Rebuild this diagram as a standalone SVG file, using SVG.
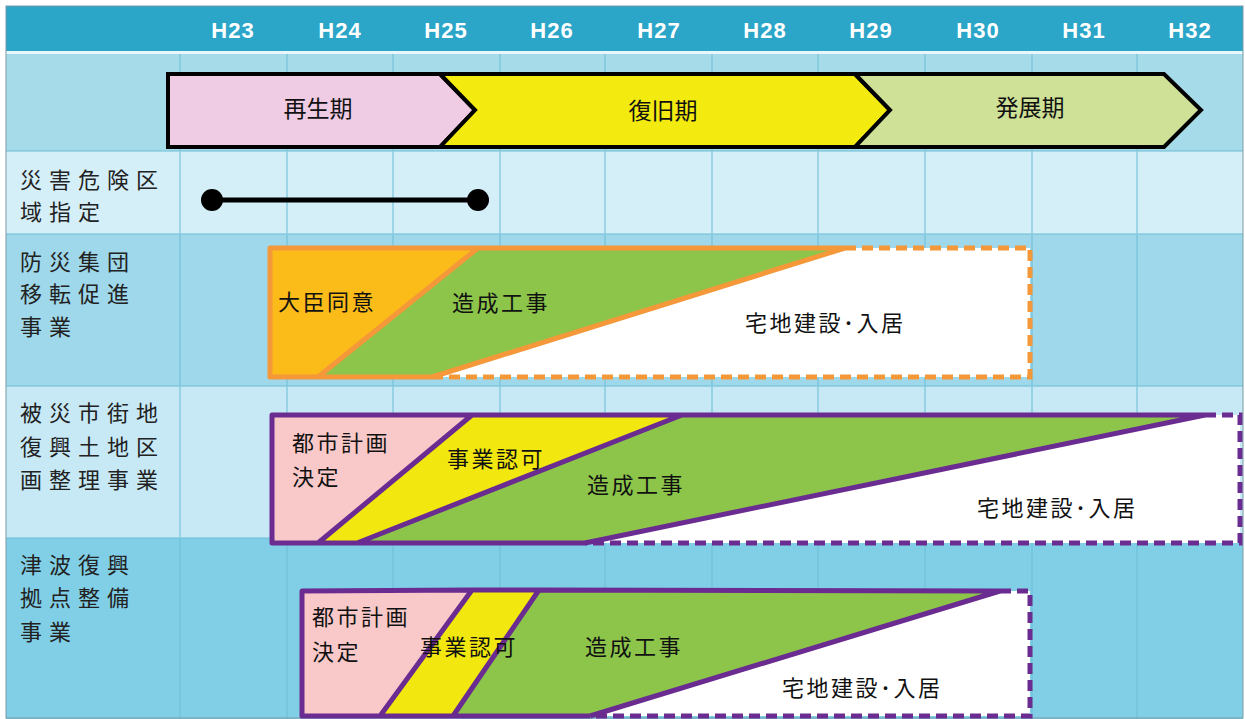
<svg xmlns="http://www.w3.org/2000/svg" width="1245" height="719" viewBox="0 0 1245 719">
<style>
.hdr{font-family:"Liberation Sans",Arial,sans-serif;font-weight:bold;font-size:22px;fill:#ffffff;text-anchor:middle;letter-spacing:1px}
.lbl{font-family:"Noto Sans CJK JP","Noto Sans",sans-serif;font-size:22px;fill:#222;letter-spacing:7px}
.ph{font-family:"Noto Sans CJK JP","Noto Sans",sans-serif;font-size:23px;fill:#111;text-anchor:middle}
.tk{font-family:"Noto Sans CJK JP","Noto Sans",sans-serif;font-size:22px;fill:#111;letter-spacing:2.5px}
.grid{stroke:#6fbfd6;stroke-width:1.5;opacity:0.7}
.phase{stroke:#000;stroke-width:4;stroke-linejoin:miter}
.os{fill:none;stroke:#f4983a;stroke-width:5;stroke-linejoin:round}
.od{fill:none;stroke:#f4983a;stroke-width:5;stroke-dasharray:11 6}
.ps{fill:none;stroke:#6a2c90;stroke-width:5;stroke-linejoin:round}
.pd{fill:none;stroke:#6a2c90;stroke-width:5;stroke-dasharray:11 6}
</style>
<rect x="0" y="0" width="1245" height="719" fill="#ffffff"/>
<g id="background">
<rect x="6" y="6" width="1237" height="45" fill="#2ba6c9"/>
<rect x="6" y="51" width="1237" height="3" fill="#e9f6fa"/>
<rect x="6" y="54" width="1237" height="97" fill="#a6dcea"/>
<rect x="6" y="151" width="1237" height="83" fill="#d5eff9"/>
<rect x="6" y="234" width="1237" height="152" fill="#9ed8ea"/>
<rect x="6" y="386" width="1237" height="152" fill="#c7e9f6"/>
<rect x="6" y="538" width="1237" height="181" fill="#80cfe6"/>
<g class="grid">
<line x1="180" y1="54" x2="180" y2="719"/>
<line x1="287" y1="54" x2="287" y2="719"/>
<line x1="393" y1="54" x2="393" y2="719"/>
<line x1="500" y1="54" x2="500" y2="719"/>
<line x1="605" y1="54" x2="605" y2="719"/>
<line x1="712" y1="54" x2="712" y2="719"/>
<line x1="818" y1="54" x2="818" y2="719"/>
<line x1="925" y1="54" x2="925" y2="719"/>
<line x1="1032" y1="54" x2="1032" y2="719"/>
<line x1="1137" y1="54" x2="1137" y2="719"/>
<line x1="6" y1="151" x2="1243" y2="151"/>
<line x1="6" y1="234" x2="1243" y2="234"/>
<line x1="6" y1="386" x2="1243" y2="386"/>
<line x1="6" y1="538" x2="1243" y2="538"/>
</g>
<rect x="6" y="6" width="1237" height="712" fill="none" stroke="#7a9aa5" stroke-width="1"/>
</g>
<g id="header">
<text class="hdr" x="233" y="38">H23</text>
<text class="hdr" x="340" y="38">H24</text>
<text class="hdr" x="446" y="38">H25</text>
<text class="hdr" x="552" y="38">H26</text>
<text class="hdr" x="659" y="38">H27</text>
<text class="hdr" x="765" y="38">H28</text>
<text class="hdr" x="871" y="38">H29</text>
<text class="hdr" x="978" y="38">H30</text>
<text class="hdr" x="1084" y="38">H31</text>
<text class="hdr" x="1190" y="38">H32</text>
</g>
<g id="phase-saisei">
<polygon class="phase" points="168,74 440,74 475,110 440,147 168,147" fill="#efcce3"/>
<text class="ph" x="318" y="117">再生期</text>
</g>
<g id="phase-fukkyu">
<polygon class="phase" points="440,74 855,74 890,110 855,147 440,147 475,110" fill="#f3ea10"/>
<text class="ph" x="663" y="119">復旧期</text>
</g>
<g id="phase-hatten">
<polygon class="phase" points="855,74 1164,74 1201,110 1164,147 855,147 890,110" fill="#cfe196"/>
<text class="ph" x="1030" y="116">発展期</text>
</g>
<g id="label-saigai">
<text class="lbl" x="20" y="188">災害危険区</text>
<text class="lbl" x="20" y="220">域指定</text>
</g>
<g id="label-bousai">
<text class="lbl" x="20" y="270">防災集団</text>
<text class="lbl" x="20" y="302">移転促進</text>
<text class="lbl" x="20" y="335">事業</text>
</g>
<g id="label-kukaku">
<text class="lbl" x="20" y="421">被災市街地</text>
<text class="lbl" x="20" y="455">復興土地区</text>
<text class="lbl" x="20" y="488">画整理事業</text>
</g>
<g id="label-tsunami">
<text class="lbl" x="20" y="573">津波復興</text>
<text class="lbl" x="20" y="606">拠点整備</text>
<text class="lbl" x="20" y="640">事業</text>
</g>
<g id="connectors">
<line x1="212" y1="200" x2="478" y2="200" stroke="#000" stroke-width="5"/>
<circle cx="212" cy="200" r="11" fill="#000"/>
<circle cx="478" cy="200" r="11" fill="#000"/>
</g>
<g id="bar-bousai">
<polygon points="270,248 478,248 318,377 270,377" fill="#fbbc1a"/>
<polygon points="478,248 845,248 432,377 318,377" fill="#8dc54b"/>
<polygon points="845,248 1030,248 1030,377 432,377" fill="#ffffff"/>
<path class="od" d="M845,248 L1030,248 L1030,377 L432,377"/>
<path class="os" d="M432,377 L270,377 L270,248 L845,248 M478,248 L318,377 M845,248 L432,377"/>
<text class="tk" x="278" y="310">大臣同意</text>
<text class="tk" x="452" y="311">造成工事</text>
<text class="tk" x="745" y="331">宅地建設･入居</text>
</g>
<g id="bar-kukaku">
<polygon points="272,415 472,415 318,543 272,543" fill="#f9c9c9"/>
<polygon points="472,415 682,415 357,543 318,543" fill="#f2e70f"/>
<polygon points="682,415 1205,415 585,543 357,543" fill="#8dc54b"/>
<polygon points="1205,415 1240,415 1240,543 585,543" fill="#ffffff"/>
<path class="pd" d="M1205,415 L1240,415 L1240,543 L585,543"/>
<path class="ps" d="M585,543 L272,543 L272,415 L1205,415 M472,415 L318,543 M682,415 L357,543 M1205,415 L585,543"/>
<text class="tk" x="292" y="451">都市計画</text>
<text class="tk" x="292" y="485">決定</text>
<text class="tk" x="447" y="467">事業認可</text>
<text class="tk" x="587" y="493">造成工事</text>
<text class="tk" x="977" y="516">宅地建設･入居</text>
</g>
<g id="bar-tsunami">
<polygon points="302,591 472,590 380,716 302,716" fill="#f9c9c9"/>
<polygon points="472,590 539,590 453,716 380,716" fill="#f2e70f"/>
<polygon points="539,590 1000,591 590,716 453,716" fill="#8dc54b"/>
<polygon points="1000,591 1030,591 1030,716 590,716" fill="#ffffff"/>
<path class="pd" d="M1000,591 L1030,591 L1030,716 L590,716"/>
<path class="ps" d="M590,716 L302,716 L302,591 L472,590 L539,590 L1000,591 M472,590 L380,716 M539,590 L453,716 M1000,591 L590,716"/>
<text class="tk" x="312" y="625">都市計画</text>
<text class="tk" x="312" y="660">決定</text>
<text class="tk" x="420" y="655">事業認可</text>
<text class="tk" x="585" y="655">造成工事</text>
<text class="tk" x="782" y="696">宅地建設･入居</text>
</g>
</svg>
